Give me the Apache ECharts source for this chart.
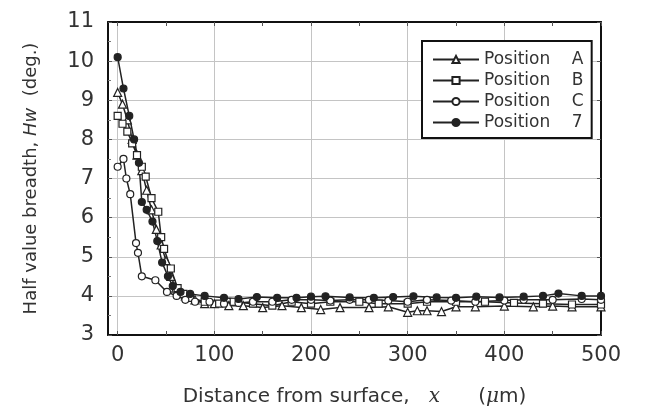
<!DOCTYPE html>
<html>
<head>
<meta charset="utf-8">
<script src="https://cdn.jsdelivr.net/npm/echarts@6/dist/echarts.min.js"></script>
<style>
  html, body { margin: 0; padding: 0; background: #fff; }
  #chart { width: 645px; height: 412px; }
</style>
</head>
<body>
<div id="chart"></div>
<script>
'use strict';

// distance x (um), half value breadth Hw (deg.)
const posA = [
  [0, 9.2], [5, 8.9], [10, 8.5], [15, 8.0], [20, 7.6], [25, 7.2], [30, 6.7], [35, 6.2],
  [40, 5.7], [45, 5.3], [50, 4.9], [55, 4.5], [60, 4.2], [70, 4.0], [80, 3.9], [90, 3.8],
  [100, 3.8], [115, 3.75], [130, 3.75], [150, 3.7], [170, 3.75], [190, 3.7], [210, 3.65],
  [230, 3.7], [260, 3.7], [280, 3.72], [300, 3.58], [310, 3.62], [320, 3.62], [335, 3.6],
  [350, 3.72], [370, 3.72], [400, 3.74], [430, 3.72], [450, 3.74], [470, 3.72], [500, 3.72]
];
const posB = [
  [0, 8.6], [5, 8.4], [10, 8.2], [15, 7.9], [20, 7.6], [25, 7.3], [29, 7.05], [35, 6.5],
  [42, 6.15], [45, 5.5], [48, 5.2], [55, 4.7], [62, 4.2], [68, 4.05], [75, 3.95], [90, 3.85],
  [105, 3.8], [120, 3.85], [140, 3.8], [160, 3.75], [180, 3.85], [200, 3.8], [220, 3.85],
  [250, 3.85], [270, 3.8], [300, 3.8], [320, 3.85], [350, 3.85], [380, 3.85], [410, 3.82],
  [440, 3.8], [470, 3.78], [500, 3.78]
];
const posC = [
  [0, 7.3], [6, 7.5], [9, 7.0], [13, 6.6], [19, 5.35], [21, 5.1], [25, 4.5], [39, 4.4],
  [51, 4.1], [61, 4.0], [70, 3.9], [80, 3.85], [95, 3.85], [110, 3.8], [125, 3.82],
  [140, 3.85], [160, 3.85], [180, 3.9], [200, 3.9], [220, 3.88], [240, 3.9], [260, 3.9],
  [280, 3.88], [300, 3.85], [320, 3.9], [345, 3.88], [370, 3.85], [400, 3.88], [420, 3.9],
  [450, 3.9], [480, 3.92], [500, 3.9]
];
const pos7 = [
  [0, 10.1], [6, 9.3], [12, 8.6], [17, 8.0], [22, 7.4], [25, 6.4], [30, 6.2], [36, 5.9],
  [41, 5.4], [46, 4.85], [52, 4.5], [57, 4.25], [65, 4.1], [75, 4.05], [90, 4.0], [110, 3.95],
  [125, 3.92], [144, 3.97], [165, 3.95], [185, 3.95], [200, 3.98], [215, 3.99], [240, 3.96],
  [265, 3.95], [285, 3.97], [306, 3.99], [330, 3.96], [350, 3.95], [371, 3.98], [395, 3.96],
  [420, 3.98], [440, 4.0], [456, 4.06], [480, 4.0], [500, 4.0]
];

const legendNames = ['Position    A', 'Position    B', 'Position    C', 'Position    7'];
const xMajor = [0, 100, 200, 300, 400, 500];
const xTicks = [0, 50, 100, 150, 200, 250, 300, 350, 400, 450, 500];

function makeSeries(name, data, symbol, filled) {
  return {
    name: name,
    type: 'line',
    data: data,
    symbol: symbol,
    symbolSize: symbol === 'triangle' ? 8 : 7,
    showAllSymbol: true,
    xAxisIndex: 0,
    yAxisIndex: 0,
    lineStyle: { color: '#222', width: 1.5 },
    itemStyle: {
      color: filled ? '#222' : '#fff',
      borderColor: '#222',
      borderWidth: 1.2
    },
    emphasis: { disabled: true },
    animation: false
  };
}

const frameLine = { show: true, onZero: false, lineStyle: { color: '#111', width: 2 } };
const gridLine = { show: true, lineStyle: { color: '#c4c4c4', width: 1 } };
const tickStyle = { color: '#555' };

const option = {
  backgroundColor: '#fff',
  grid: { left: 108, right: 44, top: 22, bottom: 75, show: false },
  legend: {
    orient: 'vertical',
    left: 422,
    top: 41,
    padding: [10, 8, 7, 10],
    itemGap: 4,
    itemWidth: 46,
    itemHeight: 9,
    backgroundColor: '#fff',
    borderColor: '#111',
    borderWidth: 2,
    borderRadius: 0,
    textStyle: { fontFamily: 'DejaVu Sans', fontSize: 17, color: '#333' },
    data: legendNames
  },
  xAxis: [{
    type: 'value',
    min: -10,
    max: 500,
    position: 'bottom',
    axisLine: frameLine,
    axisTick: { show: true, inside: true, length: 4, customValues: xTicks, lineStyle: tickStyle },
    axisLabel: {
      customValues: xMajor,
      fontFamily: 'DejaVu Sans', fontSize: 21, color: '#333', margin: 10
    },
    splitLine: { show: false },
    name: '{n|Distance from surface,   }{i|x}{n|      (}{m|μ}{n|m)}',
    nameLocation: 'middle',
    nameGap: 52,
    nameTextStyle: {
      rich: {
        n: { fontFamily: 'DejaVu Sans', fontSize: 20, color: '#333' },
        i: { fontFamily: 'DejaVu Serif', fontStyle: 'italic', fontSize: 20, color: '#333' },
        m: { fontFamily: 'DejaVu Serif', fontStyle: 'italic', fontSize: 20, color: '#333' }
      }
    }
  }, {
    type: 'value',
    min: -10,
    max: 500,
    position: 'top',
    axisLine: frameLine,
    axisTick: { show: true, inside: true, length: 4, customValues: xTicks, lineStyle: tickStyle },
    axisLabel: { show: false },
    splitLine: { show: false }
  }, {
    // vertical gridlines only, same extent as the data axis
    type: 'value',
    min: -10,
    max: 500,
    position: 'bottom',
    axisLine: { show: false },
    axisTick: { show: false },
    axisLabel: { show: false },
    splitLine: gridLine
  }],
  yAxis: [{
    type: 'value',
    min: 3,
    max: 11,
    interval: 1,
    position: 'left',
    axisLine: frameLine,
    axisTick: { show: true, inside: true, length: 4, lineStyle: tickStyle },
    minorTick: { show: true, splitNumber: 2, length: 3, lineStyle: { color: '#777' } },
    axisLabel: { fontFamily: 'DejaVu Sans', fontSize: 21, color: '#333', margin: 14 },
    splitLine: gridLine,
    name: '{n|Half value breadth, }{i|Hw}{n|  (deg.)}',
    nameLocation: 'middle',
    nameRotate: 90,
    nameGap: 68,
    nameTextStyle: {
      rich: {
        n: { fontFamily: 'DejaVu Sans', fontSize: 18, color: '#333' },
        i: { fontFamily: 'DejaVu Sans', fontStyle: 'italic', fontSize: 18, color: '#333' }
      }
    }
  }, {
    type: 'value',
    min: 3,
    max: 11,
    interval: 1,
    position: 'right',
    axisLine: frameLine,
    axisTick: { show: true, inside: true, length: 4, lineStyle: tickStyle },
    axisLabel: { show: false },
    splitLine: { show: false }
  }],
  series: [
    makeSeries(legendNames[0], posA, 'triangle', false),
    makeSeries(legendNames[1], posB, 'rect', false),
    makeSeries(legendNames[2], posC, 'circle', false),
    makeSeries(legendNames[3], pos7, 'circle', true)
  ]
};

const chart = echarts.init(document.getElementById('chart'), null, { renderer: 'canvas' });
chart.setOption(option);
</script>
</body>
</html>
